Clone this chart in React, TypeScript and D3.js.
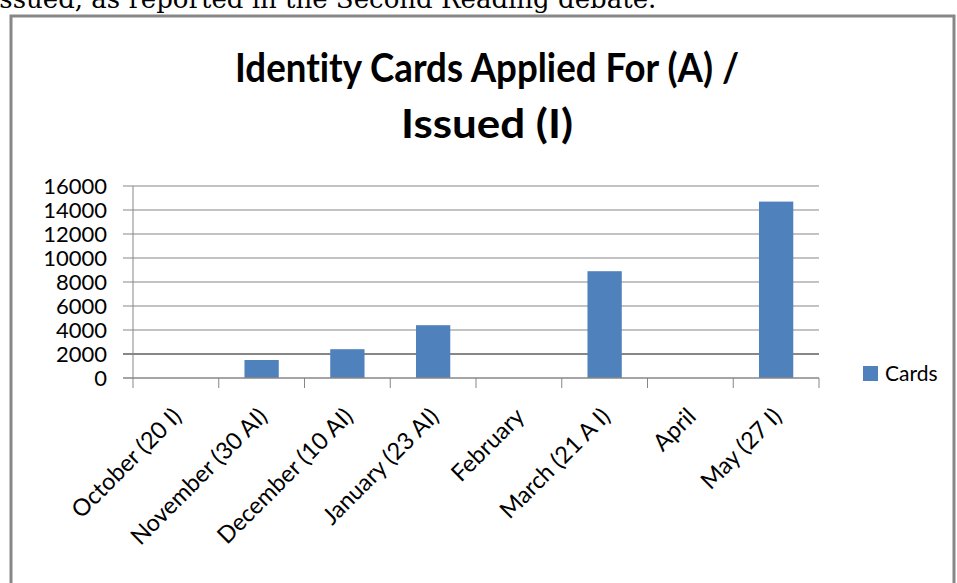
import React, { useRef, useEffect } from 'react';
import * as d3 from 'd3';

const months = [
  'October (20 I)',
  'November (30 AI)',
  'December (10 AI)',
  'January (23 AI)',
  'February',
  'March (21 A I)',
  'April',
  'May (27 I)',
];
const cards = [0, 1500, 2400, 4400, 0, 8900, 0, 14700];
const yTicks = [0, 2000, 4000, 6000, 8000, 10000, 12000, 14000, 16000];
const titleLines = ['Identity Cards Applied For (A) /', 'Issued (I)'];
const seriesName = 'Cards';
const captionText = 'issued, as reported in the Second Reading debate.';

const App = () => {
  const svgRef = useRef<SVGSVGElement>(null);

  useEffect(() => {
    const svg = d3.select(svgRef.current);
    const width = 957;
    const height = 583;
    const plot = { left: 133, right: 819, top: 186, bottom: 378 };
    const gridColor = '#878787';
    const barColor = '#4F81BD';
    const font = 'Lato, "Open Sans", sans-serif';

    svg.attr('width', width).attr('height', height);
    svg.selectAll('*').remove();

    // text of the page above the chart, cut off at the top
    svg.append('text')
      .attr('x', -9)
      .attr('y', 8)
      .style('font-family', '"DejaVu Serif", serif')
      .style('font-size', '26px')
      .attr('fill', '#000')
      .text(captionText);

    // chart frame
    svg.append('rect')
      .attr('x', 11)
      .attr('y', 16)
      .attr('width', 943)
      .attr('height', 620)
      .attr('fill', '#fff')
      .attr('stroke', gridColor)
      .attr('stroke-width', 3);

    // title, two lines (widths fitted to the reference)
    const titleWidths = [504, 172];
    const title = svg.append('text')
      .attr('text-anchor', 'middle')
      .style('font-family', font)
      .style('font-weight', 'bold')
      .style('font-size', '40px')
      .style('font-variant-ligatures', 'none')
      .attr('fill', '#000');
    titleLines.forEach((line, i) => {
      title.append('tspan')
        .attr('x', 487)
        .attr('y', 82 + i * 56)
        .attr('textLength', titleWidths[i])
        .attr('lengthAdjust', 'spacingAndGlyphs')
        .text(line);
    });

    const x = d3.scaleBand()
      .domain(months)
      .range([plot.left, plot.right])
      .padding(0);

    const y = d3.scaleLinear()
      .domain([0, 16000])
      .range([plot.bottom, plot.top]);

    // gridlines + y tick marks
    svg.append('g')
      .selectAll('line')
      .data(yTicks.filter(d => d > 0))
      .join('line')
      .attr('x1', plot.left - 10)
      .attr('x2', plot.right)
      .attr('y1', d => y(d))
      .attr('y2', d => y(d))
      .attr('stroke', gridColor)
      .attr('stroke-width', d => (d === 2000 ? 2 : 1));

    // y tick labels
    svg.append('g')
      .selectAll('text')
      .data(yTicks)
      .join('text')
      .attr('x', 107)
      .attr('y', d => y(d))
      .attr('dy', '0.36em')
      .attr('text-anchor', 'end')
      .style('font-family', font)
      .style('font-size', '22px')
      .attr('fill', '#000')
      .text(d => d);

    // bars
    svg.append('g')
      .selectAll('rect')
      .data(cards)
      .join('rect')
      .attr('x', (d, i) => x(months[i])! + x.bandwidth() * 0.3)
      .attr('width', x.bandwidth() * 0.4)
      .attr('y', d => y(d))
      .attr('height', d => y(0) - y(d))
      .attr('fill', barColor);

    // axes lines
    svg.append('line')
      .attr('x1', plot.left)
      .attr('x2', plot.left)
      .attr('y1', plot.top)
      .attr('y2', plot.bottom + 10)
      .attr('stroke', gridColor)
      .attr('stroke-width', 1);

    svg.append('line')
      .attr('x1', plot.left - 10)
      .attr('x2', plot.right)
      .attr('y1', y(0))
      .attr('y2', y(0))
      .attr('stroke', gridColor)
      .attr('stroke-width', 1.5);

    // x tick marks on category boundaries
    svg.append('g')
      .selectAll('line')
      .data(months)
      .join('line')
      .attr('x1', d => x(d)! + x.bandwidth())
      .attr('x2', d => x(d)! + x.bandwidth())
      .attr('y1', y(0))
      .attr('y2', y(0) + 10)
      .attr('stroke', gridColor)
      .attr('stroke-width', 1);

    // rotated category labels
    svg.append('g')
      .selectAll('text')
      .data(months)
      .join('text')
      .attr('text-anchor', 'end')
      .attr('dy', '0.72em')
      .attr('transform', d => `translate(${x(d)! + x.bandwidth() / 2 - 5},${406}) rotate(-45)`)
      .style('font-family', font)
      .style('font-size', '23.5px')
      .attr('fill', '#000')
      .text(d => d);

    // legend
    const legendRow = svg.append('g')
      .attr('transform', 'translate(863,366)');
    legendRow.append('rect')
      .attr('width', 15)
      .attr('height', 15)
      .attr('fill', barColor);
    legendRow.append('text')
      .attr('x', 22)
      .attr('y', 15)
      .style('font-family', font)
      .style('font-size', '21px')
      .attr('fill', '#000')
      .text(seriesName);
  }, []);

  return (
    <div>
      <style>{'body{margin:0}'}</style>
      <svg ref={svgRef} style={{ display: 'block' }}></svg>
    </div>
  );
};

export default App;
